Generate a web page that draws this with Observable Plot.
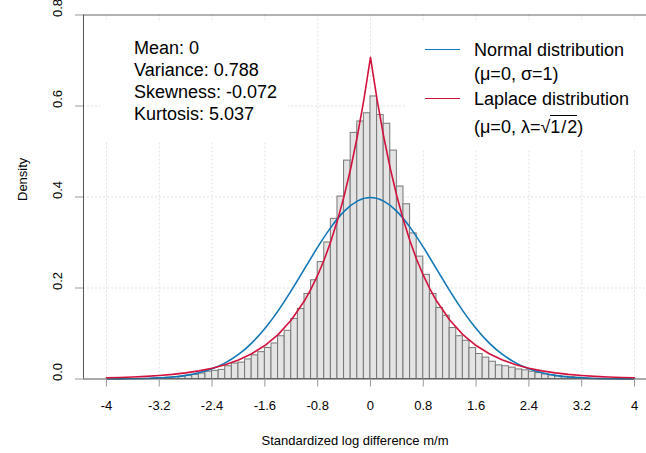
<!DOCTYPE html>
<html>
<head>
<meta charset="utf-8">
<script src="https://cdn.jsdelivr.net/npm/d3@7"></script>
<script src="https://cdn.jsdelivr.net/npm/@observablehq/plot@0.6"></script>
<style>
  body { margin: 0; background: #fff; }
  #vis { position: relative; width: 646px; height: 453px; font-family: "Liberation Sans", Arial, sans-serif; }
  .box { position: absolute; background: #fff; }
  .txt { position: absolute; font-size: 18px; line-height: 18px; white-space: nowrap; color: #000; }
  .key { position: absolute; width: 35px; height: 0; }
  .rad { border-top: 1px solid #000; padding-top: 1px; }
</style>
</head>
<body>
<div id="vis"></div>
<script>
// histogram bins (left edge, width 0.1) and densities
const binLeft = [-3.3, -3.2, -3.1, -3.0, -2.9, -2.8, -2.7, -2.6, -2.5, -2.4, -2.3, -2.2, -2.1, -2.0,
  -1.9, -1.8, -1.7, -1.6, -1.5, -1.4, -1.3, -1.2, -1.1, -1.0, -0.9, -0.8, -0.7, -0.6, -0.5, -0.4,
  -0.3, -0.2, -0.1, 0.0, 0.1, 0.2, 0.3, 0.4, 0.5, 0.6, 0.7, 0.8, 0.9, 1.0, 1.1, 1.2, 1.3, 1.4,
  1.5, 1.6, 1.7, 1.8, 1.9, 2.0, 2.1, 2.2, 2.3, 2.4, 2.5, 2.6, 2.7, 2.8, 2.9, 3.0, 3.1, 3.2]
const density = [0.001, 0.002, 0.003, 0.004, 0.005, 0.007, 0.009, 0.012, 0.016, 0.018, 0.020, 0.028, 0.034, 0.036,
  0.043, 0.052, 0.059, 0.068, 0.078, 0.094, 0.106, 0.132, 0.154, 0.187, 0.217, 0.257, 0.300, 0.352, 0.401, 0.480,
  0.541, 0.566, 0.584, 0.621, 0.580, 0.561, 0.502, 0.423, 0.384, 0.320, 0.269, 0.229, 0.187, 0.156, 0.139, 0.112, 0.094, 0.084,
  0.068, 0.055, 0.047, 0.038, 0.030, 0.028, 0.025, 0.021, 0.019, 0.016, 0.013, 0.010, 0.008, 0.006, 0.005, 0.004, 0.003, 0.001]
const binWidth = 0.1

// normal curve (mu=0, sigma=1)
const normalX = [-4, -3.8, -3.6, -3.4, -3.2, -3, -2.8, -2.6, -2.4, -2.2, -2, -1.8, -1.6, -1.4, -1.2, -1, -0.8, -0.6, -0.4, -0.2,
  0, 0.2, 0.4, 0.6, 0.8, 1, 1.2, 1.4, 1.6, 1.8, 2, 2.2, 2.4, 2.6, 2.8, 3, 3.2, 3.4, 3.6, 3.8, 4]
const normalY = [0.0001, 0.0003, 0.0006, 0.0012, 0.0024, 0.0044, 0.0079, 0.0136, 0.0224, 0.0355, 0.0540, 0.0790, 0.1109, 0.1497, 0.1942, 0.2420, 0.2897, 0.3332, 0.3683, 0.3910,
  0.3989, 0.3910, 0.3683, 0.3332, 0.2897, 0.2420, 0.1942, 0.1497, 0.1109, 0.0790, 0.0540, 0.0355, 0.0224, 0.0136, 0.0079, 0.0044, 0.0024, 0.0012, 0.0006, 0.0003, 0.0001]

// laplace curve (mu=0, lambda=sqrt(1/2))
const laplaceX = [-4, -3.8, -3.6, -3.4, -3.2, -3, -2.8, -2.6, -2.4, -2.2, -2, -1.8, -1.6, -1.4, -1.2, -1,
  -0.9, -0.8, -0.7, -0.6, -0.5, -0.4, -0.3, -0.2, -0.1, 0, 0.1, 0.2, 0.3, 0.4, 0.5, 0.6, 0.7, 0.8, 0.9,
  1, 1.2, 1.4, 1.6, 1.8, 2, 2.2, 2.4, 2.6, 2.8, 3, 3.2, 3.4, 3.6, 3.8, 4]
const laplaceY = [0.0025, 0.0033, 0.0043, 0.0058, 0.0077, 0.0102, 0.0135, 0.0179, 0.0237, 0.0315, 0.0418, 0.0555, 0.0736, 0.0976, 0.1296, 0.1719,
  0.1980, 0.2281, 0.2627, 0.3027, 0.3487, 0.4016, 0.4626, 0.5329, 0.6138, 0.7071, 0.6138, 0.5329, 0.4626, 0.4016, 0.3487, 0.3027, 0.2627, 0.2281, 0.1980,
  0.1719, 0.1296, 0.0976, 0.0736, 0.0555, 0.0418, 0.0315, 0.0237, 0.0179, 0.0135, 0.0102, 0.0077, 0.0058, 0.0043, 0.0033, 0.0025]

const xTicks = [-4, -3.2, -2.4, -1.6, -0.8, 0, 0.8, 1.6, 2.4, 3.2, 4]
const yTicks = [0, 0.2, 0.4, 0.6, 0.8]
const xDomain = [-4.348, 4.182]

const statLines = ["Mean: 0", "Variance: 0.788", "Skewness: -0.072", "Kurtosis: 5.037"]

const blue = "#0f76b8"
const red = "#d2123c"

const bins = binLeft.map((x, i) => ({x1: x, x2: x + binWidth, density: density[i]}))
const normal = normalX.map((x, i) => ({x, y: normalY[i]}))
const laplace = laplaceX.map((x, i) => ({x, y: laplaceY[i]}))

let chart = Plot.plot({
  width: 646,
  height: 453,
  marginLeft: 83,
  marginRight: 0,
  marginTop: 14.5,
  marginBottom: 74.5,
  x: {domain: xDomain},
  y: {domain: [0, 0.8]},
  style: {
    fontFamily: '"Liberation Sans", Arial, sans-serif',
    fontSize: "13px",
    color: "#000",
    background: "#fff",
    overflow: "visible",
  },
  marks: [
    Plot.gridX(xTicks, {stroke: "#e2e2e2", strokeOpacity: 1, strokeDasharray: "2,2"}),
    Plot.gridY(yTicks.slice(1, -1), {stroke: "#e2e2e2", strokeOpacity: 1, strokeDasharray: "2,2"}),
    Plot.rectY(bins, {x1: "x1", x2: "x2", y: "density", fill: "#e4e4e4", stroke: "#777", strokeWidth: 1}),
    Plot.line(normal, {x: "x", y: "y", stroke: blue, strokeWidth: 1.6, curve: "natural"}),
    Plot.line(laplace, {x: "x", y: "y", stroke: red, strokeWidth: 1.6}),
    Plot.ruleY([0], {stroke: "#555"}),
    Plot.ruleY([0.8], {stroke: "#666"}),
    Plot.ruleX([xDomain[0]], {stroke: "#555"}),
    Plot.axisX(xTicks, {tickSize: 8, tickPadding: 14, stroke: "#999", fontSize: 13, tickFormat: d => String(d), label: null}),
    Plot.axisY(yTicks, {tickSize: 8, stroke: "#999", tickFormat: () => "", label: null}),
    Plot.text(yTicks, {y: d => d, text: d => d.toFixed(1), frameAnchor: "left", rotate: -90, dx: -26, dy: 2, fontSize: 13}),
    Plot.text(["Density"], {frameAnchor: "left", rotate: -90, dx: -61, dy: 4, fontSize: 13}),
    Plot.text(["Standardized log difference m/m"], {frameAnchor: "bottom", lineAnchor: "middle", dx: -10, dy: 61.5, fontSize: 13}),
  ]
})

const vis = d3.select('#vis')
vis.append(() => chart)

// white boxes behind the annotation and the legend, as in the original
vis.append('div').attr('class', 'box').style('left', '100px').style('top', '20px').style('width', '188px').style('height', '122px')
vis.append('div').attr('class', 'box').style('left', '406px').style('top', '20px').style('width', '240px').style('height', '130px')

statLines.forEach((s, i) => {
  vis.append('div').attr('class', 'txt').style('left', '134px').style('top', (39.25 + i * 22) + 'px').text(s)
})

vis.append('div').attr('class', 'key').style('left', '425px').style('top', '49.25px').style('border-top', `1.5px solid ${blue}`)
vis.append('div').attr('class', 'key').style('left', '425px').style('top', '98.25px').style('border-top', `1.5px solid ${red}`)
vis.append('div').attr('class', 'txt').style('left', '474px').style('top', '41.25px').text("Normal distribution")
vis.append('div').attr('class', 'txt').style('left', '474px').style('top', '65.25px').text("(μ=0, σ=1)")
vis.append('div').attr('class', 'txt').style('left', '474px').style('top', '90.25px').text("Laplace distribution")
vis.append('div').attr('class', 'txt').style('left', '474px').style('top', '118px')
  .html('(μ=0, λ=√<span class="rad">1<span style="margin:0 1px">/</span>2</span>)')
</script>
</body>
</html>
